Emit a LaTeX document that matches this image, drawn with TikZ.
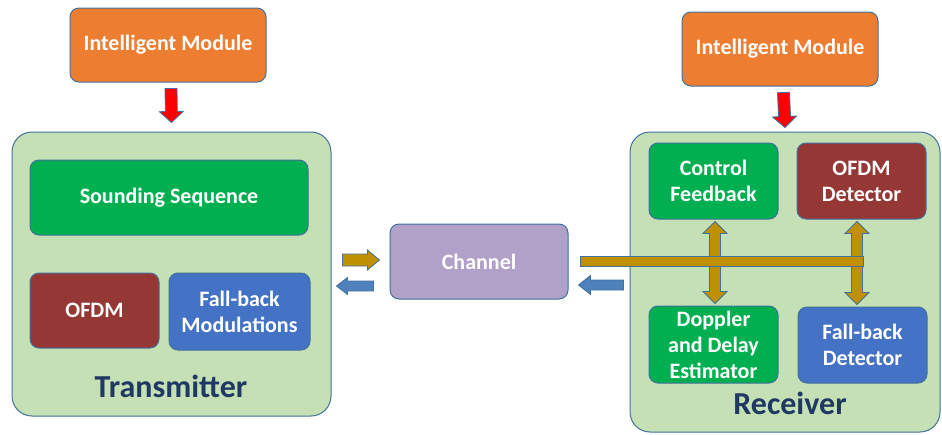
\documentclass[tikz,border=0pt]{standalone}
\usepackage{fontspec}
\setmainfont{Carlito}
\usetikzlibrary{calc}

\definecolor{edge}{HTML}{41719C}
\definecolor{panelgreen}{HTML}{C5E0B4}
\definecolor{imorange}{HTML}{ED7D31}
\definecolor{seqgreen}{HTML}{00B050}
\definecolor{ofdmred}{HTML}{953735}
\definecolor{fbblue}{HTML}{4472C4}
\definecolor{chpurple}{HTML}{B1A0C7}
\definecolor{gold}{HTML}{BF9000}
\definecolor{arrblue}{HTML}{4F81BD}
\definecolor{navy}{HTML}{1F3864}

\newcommand{\boxfont}{\bfseries\fontsize{22}{26}\selectfont}
\newcommand{\labfont}{\bfseries\fontsize{32}{36}\selectfont}

% block arrow: [style]{from}{to}{shaft half width}{head half width}{head length}
\newcommand{\blockarrow}[6][]{%
  \coordinate (ba-s) at (#2);
  \coordinate (ba-e) at (#3);
  \coordinate (ba-h) at ($(ba-e)!#6!(ba-s)$);
  \draw[#1] ($(ba-s)!#4!90:(ba-e)$) -- ($(ba-h)!#4!-90:(ba-s)$)
    -- ($(ba-h)!#5!-90:(ba-s)$) -- (ba-e) -- ($(ba-h)!#5!90:(ba-s)$)
    -- ($(ba-h)!#4!90:(ba-s)$) -- ($(ba-s)!#4!-90:(ba-e)$) -- cycle;
}

\tikzset{
  box/.style={draw=edge, line width=1pt, rounded corners=9pt, text=white,
    align=center, font=\boxfont, inner sep=0pt},
  panel/.style={draw=edge, line width=1pt, fill=panelgreen, rounded corners=20pt},
  panellabel/.style={text=navy, font=\labfont, inner sep=0pt},
  redarr/.style={draw=edge, line width=.8pt, fill=red},
  goldarr/.style={draw=edge, line width=.8pt, fill=gold},
  bluearr/.style={draw=edge, line width=.8pt, fill=arrblue},
}

\begin{document}
\begin{tikzpicture}[x=1pt,y=-1pt]
  \useasboundingbox (0,0) rectangle (942,434);

  % transmitter side
  \node[panel, minimum width=319pt, minimum height=284pt] (tx) at (171.5,274) {};
  \node[box, fill=imorange, minimum width=196pt, minimum height=74pt] (imL) at (168,45) {Intelligent Module};
  \node[box, fill=seqgreen, minimum width=278pt, minimum height=75pt] (sound) at (169,197.5) {Sounding Sequence};
  \node[box, fill=ofdmred, minimum width=129pt, minimum height=75pt] (ofdm) at (94.5,310.5) {OFDM};
  \node[box, fill=fbblue, minimum width=141pt, minimum height=77pt] (fbm) at (239.5,311.5) {Fall-back\\Modulations};
  \node[panellabel] (txlab) at (171,386) {Transmitter};

  % channel
  \node[box, fill=chpurple, minimum width=178pt, minimum height=75pt] (ch) at (479,261.5) {Channel};

  % receiver side
  \node[panel, minimum width=310pt, minimum height=300pt] (rx) at (785,282) {};
  \node[box, fill=imorange, minimum width=196pt, minimum height=74pt] (imR) at (780,49) {Intelligent Module};
  \node[box, fill=seqgreen, minimum width=129pt, minimum height=76pt] (cf) at (713.5,181) {Control\\Feedback};
  \node[box, fill=ofdmred, minimum width=129pt, minimum height=76pt] (od) at (861.5,181) {OFDM\\Detector};
  \node[box, fill=seqgreen, minimum width=129pt, minimum height=77pt] (dde) at (713.5,344.5) {Doppler\\and Delay\\Estimator};
  \node[box, fill=fbblue, minimum width=129pt, minimum height=76pt] (fbd) at (862.5,345) {Fall-back\\Detector};
  \node[panellabel] (rxlab) at (790,403) {Receiver};

  % control arrows
  \blockarrow[redarr]{$(imL.south)+(3,6)$}{$(tx.north)+(0,-9)$}{6pt}{12pt}{11pt}
  \blockarrow[redarr]{$(imR.south)+(3.5,6)$}{$(rx.north)+(0,-4)$}{6pt}{12pt}{11pt}

  % links to and from the channel
  \blockarrow[goldarr]{$(ch.west)+(-47,-1.5)$}{$(ch.west)+(-10,-1.5)$}{6pt}{10pt}{12pt}
  \blockarrow[bluearr]{$(ch.west)+(-16,24.5)$}{$(ch.west)+(-53,24.5)$}{5pt}{8.5pt}{11pt}

  % receiver bus
  \coordinate (bus) at ($(ch.east)+(12,0)$);
  \blockarrow[goldarr]{$(cf.south |- bus)+(1.5,0)$}{$(cf.south)+(1.5,2)$}{5.5pt}{12pt}{12pt}
  \blockarrow[goldarr]{$(cf.south |- bus)+(1.5,0)$}{$(dde.north)+(1.5,-2)$}{5.5pt}{12pt}{12pt}
  \blockarrow[goldarr]{$(od.south |- bus)+(-4.5,0)$}{$(od.south)+(-4.5,2)$}{5.5pt}{12pt}{12pt}
  \blockarrow[goldarr]{$(od.south |- bus)+(-4.5,0)$}{$(fbd.north)+(-5.5,-2)$}{5.5pt}{12pt}{12pt}
  \draw[goldarr] ($(bus)+(0,-5)$) rectangle ($(od.south |- bus)+(1.5,5)$);
  \blockarrow[bluearr]{$(rx.west)+(-6,3)$}{$(ch.east)+(10,23.5)$}{5pt}{9.5pt}{12pt}
\end{tikzpicture}
\end{document}
